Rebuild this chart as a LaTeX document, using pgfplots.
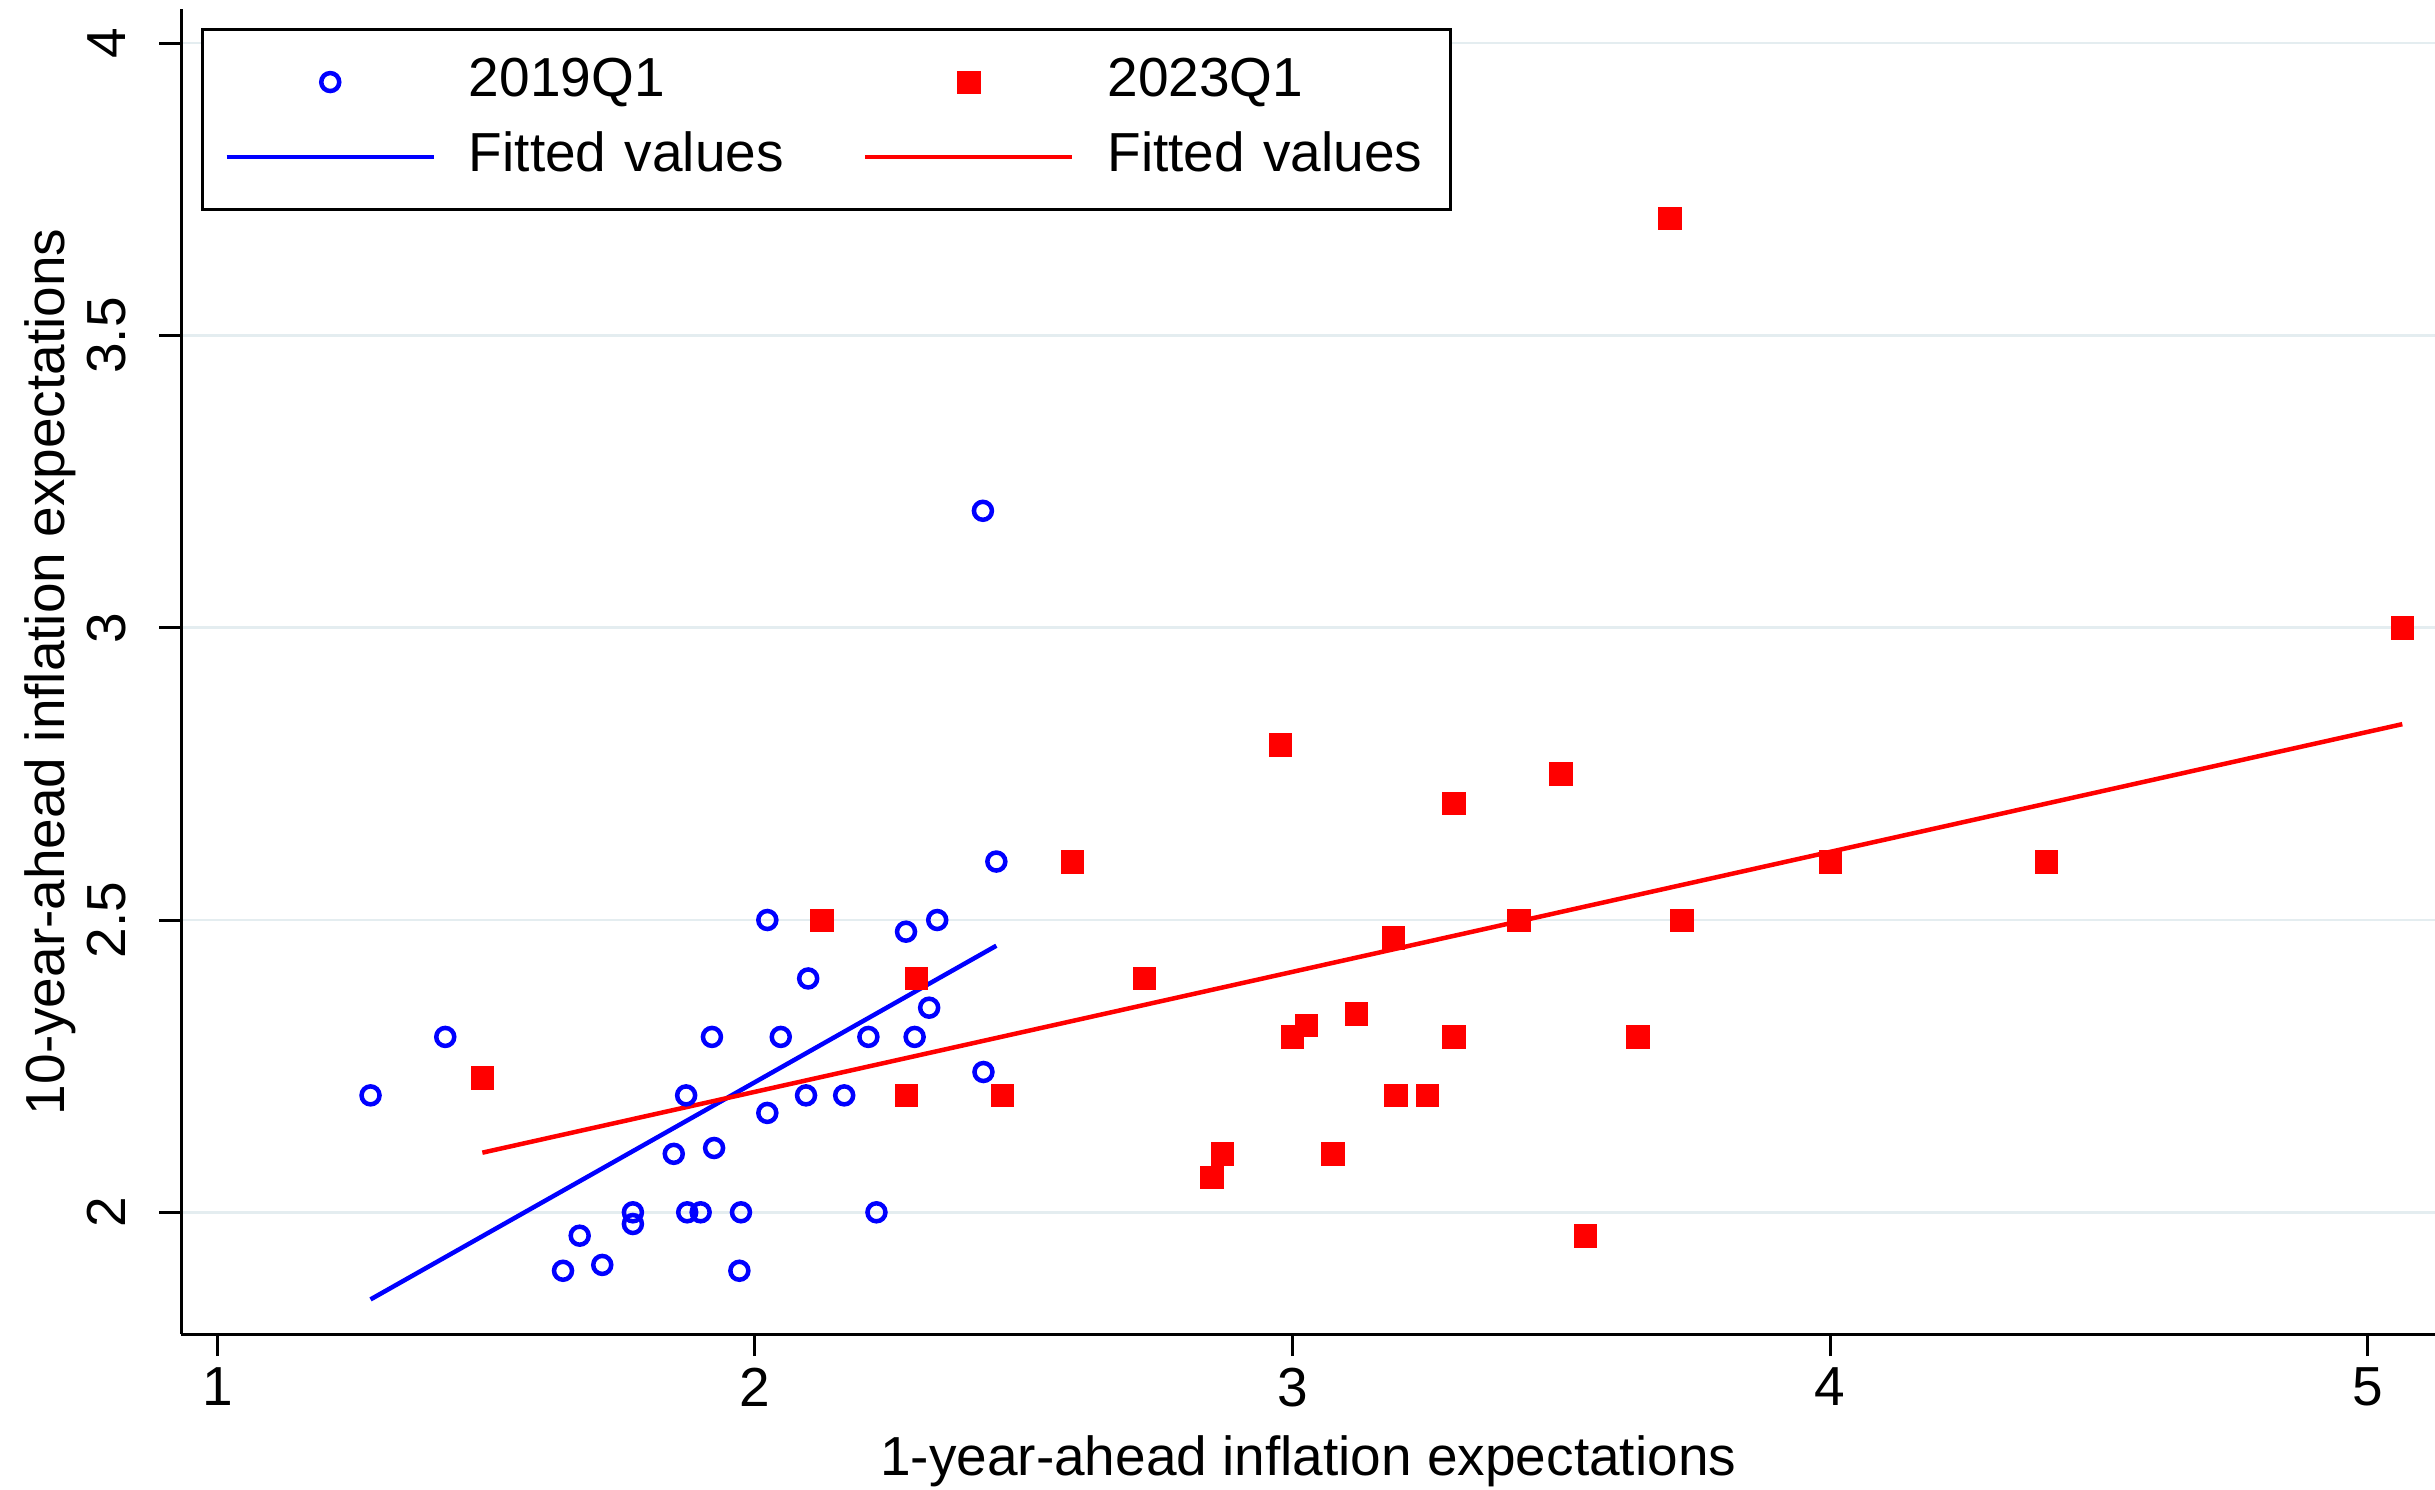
\documentclass[border=0pt]{standalone}
\usepackage{fontspec}
\setmainfont{Liberation Sans}
\usepackage{pgfplots}
\pgfplotsset{compat=1.18}
\definecolor{gridc}{RGB}{228,237,240}
\definecolor{sblue}{RGB}{0,0,255}
\definecolor{sred}{RGB}{255,0,0}
\pgfplotsset{
  markleg/.style={legend image code/.code={\path[draw=none,fill=none] (0pt,0pt) -- (41.4pt,0pt); \draw[##1] plot coordinates {(20.7pt,0pt)};}},
  lineleg/.style={legend image code/.code={\draw[##1] (0pt,0pt) -- (41.4pt,0pt);}},
}
\begin{document}
\fontsize{11}{13}\selectfont
\begin{tikzpicture}
\begin{axis}[
  at={(36.3pt,31pt)}, anchor=south west,
  scale only axis, width=450.7pt, height=264.9pt,
  xmin=0.9334, xmax=5.1248, ymin=1.7918, ymax=4.0575,
  axis lines*=left,
  axis line style={-, line width=0.6pt, black},
  xtick={1,2,3,4,5}, ytick={2,2.5,3,3.5,4},
  tick align=outside, major tick length=4.4pt,
  tick style={black, line width=0.6pt},
  ymajorgrids, grid style={gridc, line width=0.55pt},
  /pgf/number format/assume math mode=true,
  ticklabel style={font=\fontsize{11}{13}\selectfont, inner sep=0pt},
  xticklabel style={anchor=north, yshift=-2.2pt},
  yticklabel style={xshift=-6.5pt, rotate=90, anchor=south},
  xlabel={1-year-ahead inflation expectations},
  ylabel={10-year-ahead inflation expectations},
  xlabel style={at={(axis description cs:0.5,-0.1065)}, anchor=base, inner sep=0pt, font=\fontsize{11}{13}\selectfont},
  ylabel style={at={(axis description cs:-0.0517,0.5)}, anchor=base, inner sep=0pt, font=\fontsize{11}{13}\selectfont},
  legend columns=2, legend cell align=left,
  legend style={at={(axis description cs:0.00865,0.986)}, anchor=north west,
    draw=black, line width=0.6pt, fill=white,
    inner xsep=4.4pt, inner ysep=5.4pt, row sep=4.8pt,
    font=\fontsize{11}{13}\selectfont,
    nodes={inner sep=0pt, text height=8pt, text depth=2.2pt, text width=64.2pt, align=left},
    /tikz/every even column/.append style={column sep=14.6pt},
    /tikz/every odd column/.append style={column sep=6.6pt}},
]
% 2019Q1
\addplot[only marks, mark=o, color=sblue, mark size=1.8pt, line width=0.9pt, markleg]
coordinates {
(1.285,2.20) (1.424,2.30) (1.643,1.90) (1.674,1.96) (1.716,1.91)
(1.773,2.00) (1.773,1.98) (1.849,2.10) (1.872,2.20) (1.874,2.00)
(1.899,2.00) (1.920,2.30) (1.924,2.11) (1.971,1.90) (1.974,2.00)
(2.023,2.50) (2.023,2.17) (2.048,2.30) (2.095,2.20) (2.099,2.40)
(2.166,2.20) (2.211,2.30) (2.226,2.00) (2.281,2.48) (2.297,2.30)
(2.324,2.35) (2.339,2.50) (2.424,3.20) (2.425,2.24) (2.449,2.60)
};
\addlegendentry{2019Q1}
% 2023Q1
\addplot[only marks, mark=square*, color=sred, mark size=2.25pt, line width=0.1pt, markleg]
coordinates {
(1.493,2.23) (2.124,2.50) (2.281,2.20) (2.300,2.40) (2.460,2.20)
(2.590,2.60) (2.724,2.40) (2.850,2.06) (2.869,2.10) (2.977,2.80)
(2.999,2.30) (3.025,2.32) (3.075,2.10) (3.118,2.34) (3.187,2.47)
(3.192,2.20) (3.250,2.20) (3.300,2.70) (3.300,2.30) (3.421,2.50)
(3.499,2.75) (3.544,1.96) (3.642,2.30) (3.701,3.70) (3.724,2.50)
(4.000,2.60) (4.402,2.60) (5.064,3.00)
};
\addlegendentry{2023Q1}
% fitted 2019Q1
\addplot[sblue, line width=0.9pt, no marks, lineleg]
coordinates {(1.285,1.851) (2.449,2.456)};
\addlegendentry{Fitted values}
% fitted 2023Q1
\addplot[sred, line width=0.9pt, no marks, lineleg]
coordinates {(1.493,2.102) (5.064,2.835)};
\addlegendentry{Fitted values}
\end{axis}
\pgfresetboundingbox
\useasboundingbox (0,0) rectangle (487pt,297.8pt);
\end{tikzpicture}
\end{document}
